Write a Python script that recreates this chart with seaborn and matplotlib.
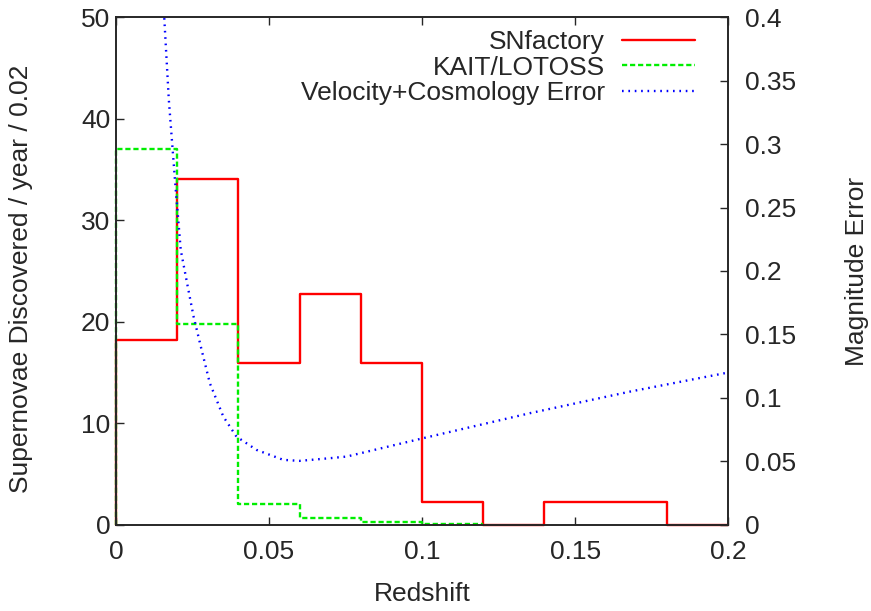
import numpy as np
import pandas as pd
import seaborn as sns
from matplotlib import pyplot as plt

# bin edges (redshift) and rates per bin
edges = [0.0, 0.02, 0.04, 0.06, 0.08, 0.10, 0.12, 0.14, 0.16, 0.18, 0.20]
snf = [18.2, 34.1, 15.9, 22.7, 15.9, 2.25, 0.0, 2.27, 2.27, 0.0]
kait_edges = [0.0, 0.02, 0.04, 0.06, 0.08, 0.10, 0.12]
kait = [37.0, 19.8, 2.07, 0.68, 0.32, 0.05]

# velocity + cosmology magnitude error
err_z = [0.015, 0.0158, 0.0173, 0.0193, 0.0212, 0.0233, 0.0254, 0.028, 0.0307,
         0.0351, 0.0394, 0.046, 0.0547, 0.060, 0.0699, 0.0754, 0.0999, 0.1353,
         0.168, 0.20]
err_m = [0.44, 0.40, 0.335, 0.272, 0.2165, 0.190, 0.164, 0.138, 0.1116,
         0.0853, 0.0695, 0.059, 0.0512, 0.0504, 0.0525, 0.0538, 0.068, 0.088,
         0.105, 0.120]


def step_frame(e, v):
    x = [e[0]] + list(e)
    y = [0.0] + list(v) + [v[-1]]
    return pd.DataFrame({'z': x, 'n': y})


sns.set_style('ticks')
plt.rcParams['font.family'] = ['Liberation Sans', 'DejaVu Sans']
plt.rcParams['font.size'] = 19

fig, ax = plt.subplots(figsize=(8.71, 6.11), dpi=100)
fig.subplots_adjust(left=0.133, right=0.836, top=0.972, bottom=0.141)
ax2 = ax.twinx()

sns.lineplot(data=step_frame(edges, snf), x='z', y='n', ax=ax, sort=False,
             estimator=None, drawstyle='steps-post', color='#ff0000',
             lw=1.7, label='SNfactory', clip_on=False, legend=False)
sns.lineplot(data=step_frame(kait_edges, kait), x='z', y='n', ax=ax, sort=False,
             estimator=None, drawstyle='steps-post', color='#00ee00',
             lw=1.7, dashes=False, label='KAIT/LOTOSS', clip_on=False,
             legend=False)
ax.lines[-1].set_dashes([2.2, 1.2])
sns.lineplot(x=err_z, y=err_m, ax=ax2, sort=False, estimator=None,
             color='#0000ff', lw=1.7, label='Velocity+Cosmology Error',
             legend=False)
ax2.lines[-1].set_dashes([0.7, 2.0])

ax.set_xlim(0, 0.2)
ax.set_ylim(0, 50)
ax2.set_ylim(0, 0.4)
ax.set_xticks([0, 0.05, 0.1, 0.15, 0.2])
ax.set_xticklabels(['0', '0.05', '0.1', '0.15', '0.2'])
ax.set_yticks([0, 10, 20, 30, 40, 50])
ax2.set_yticks([0, 0.05, 0.1, 0.15, 0.2, 0.25, 0.3, 0.35, 0.4])
ax2.set_yticklabels(['0', '0.05', '0.1', '0.15', '0.2', '0.25', '0.3', '0.35', '0.4'])

ax.tick_params(axis='x', direction='in', length=6, width=1, top=True, pad=11)
ax.tick_params(axis='y', direction='in', length=6, width=1, right=False, pad=4)
ax2.tick_params(axis='y', direction='in', length=6, width=1, pad=12)
for a in (ax, ax2):
    for s in a.spines.values():
        s.set_linewidth(1.2)
        s.set_visible(True)

ax.set_xlabel('Redshift', labelpad=13)
ax.set_ylabel('Supernovae Discovered / year / 0.02')
ax.yaxis.set_label_coords(-0.135, 0.485)
ax2.set_ylabel('Magnitude Error', labelpad=35)

handles = ax.get_lines()[:2] + ax2.get_lines()[:1]
labels = ['SNfactory', 'KAIT/LOTOSS', 'Velocity+Cosmology Error']
ax2.legend(handles, labels, loc='upper right', frameon=False, markerfirst=False,
           handlelength=2.75, handletextpad=0.65, labelspacing=0.05,
           bbox_to_anchor=(0.967, 1.0), borderaxespad=0.1)

plt.savefig('out.png', dpi=100)
